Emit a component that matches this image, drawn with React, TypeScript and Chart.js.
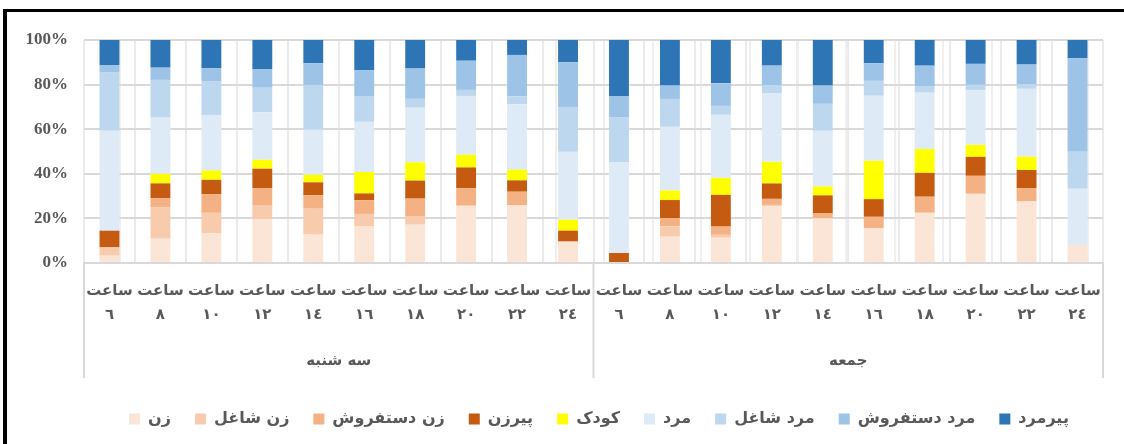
import React, { useEffect, useRef } from 'react';
import { Chart, registerables } from 'chart.js';

Chart.register(...registerables);

// ---- Data ----
const days = ['سه شنبه', 'جمعه'];
const hours = ['٦', '٨', '١٠', '١٢', '١٤', '١٦', '١٨', '٢٠', '٢٢', '٢٤'];
const hourWord = 'ساعت';
const yTickLabels = ['0%', '10%', '20%', '30%', '40%', '50%', '60%', '70%', '80%', '90%', '100%'];

const seriesNames = ['زن', 'زن شاغل', 'زن دستفروش', 'پیرزن', 'کودک', 'مرد', 'مرد شاغل', 'مرد دستفروش', 'پیرمرد'];
const seriesColors = ['#FBE5D6', '#F8CBAD', '#F4B183', '#C55A11', '#FFFF00', '#DEEBF7', '#BDD7EE', '#9DC3E6', '#2E75B6'];

// values per category: Tuesday 6..24, then Friday 6..24
const zan = [3.3, 10.9, 13.4, 19.7, 12.7, 16.6, 17.2, 25.7, 26.0, 9.6, 0, 11.8, 11.3, 25.4, 20.0, 15.5, 22.5, 31.0, 27.6, 8.1];
const zanShaghel = [3.7, 14.0, 9.1, 6.0, 11.6, 5.4, 3.6, 0, 0, 0, 0, 4.6, 1.3, 0.7, 0, 0, 0, 0, 0, 0];
const zanDastforush = [0, 4.2, 8.4, 7.9, 6.0, 6.1, 8.1, 7.9, 6.0, 0, 0, 3.7, 3.7, 2.7, 2.2, 5.2, 7.2, 8.1, 6.0, 0];
const pirzan = [7.5, 6.6, 6.4, 8.7, 5.8, 3.1, 8.1, 9.3, 5.1, 4.9, 4.5, 8.1, 14.2, 6.9, 8.1, 7.9, 10.7, 8.5, 8.1, 0];
const kudak = [0, 4.3, 4.2, 4.0, 3.4, 9.6, 8.2, 5.7, 4.8, 4.9, 0, 4.3, 7.6, 9.7, 4.0, 17.2, 10.7, 5.4, 6.0, 0];
const mard = [44.8, 25.2, 24.9, 21.3, 20.1, 22.5, 24.5, 26.4, 29.4, 30.4, 40.6, 28.5, 28.2, 30.9, 24.9, 29.1, 25.2, 24.5, 30.4, 25.2];
const mardShaghel = [26.1, 16.9, 15.2, 11.0, 20.1, 11.6, 4.0, 2.7, 3.4, 20.1, 20.1, 12.5, 4.0, 3.6, 12.1, 6.7, 3.0, 2.4, 2.1, 16.6];
const mardDastforush = [3.4, 5.5, 5.7, 8.4, 9.7, 11.5, 13.6, 13.1, 18.7, 20.0, 9.7, 6.0, 10.1, 8.7, 8.2, 7.9, 9.1, 9.4, 8.8, 41.9];
const pirmard = [11.2, 12.4, 12.7, 13.0, 10.4, 13.6, 12.8, 9.3, 6.7, 10.0, 25.1, 20.4, 19.4, 11.5, 20.4, 10.4, 11.5, 10.7, 11.0, 8.2];

const seriesValues = [zan, zanShaghel, zanDastforush, pirzan, kudak, mard, mardShaghel, mardDastforush, pirmard];

const categories = days.flatMap(() => hours.map((h) => [hourWord, h]));

const TEXT_COLOR = '#595959';
const ARABIC_FONT = '"DejaVu Sans", sans-serif';
const LEGEND_CENTER_X = 599;

export default function App() {
  const canvasRef = useRef<HTMLCanvasElement | null>(null);

  useEffect(() => {
    document.body.style.margin = '0';
    const canvas = canvasRef.current;
    if (!canvas) return;

    const totals = categories.map((_, i) => seriesValues.reduce((s, arr) => s + arr[i], 0));
    const datasets = seriesNames.map((name, si) => ({
      label: name,
      data: seriesValues[si].map((v, i) => (v / totals[i]) * 100),
      backgroundColor: seriesColors[si],
      borderWidth: 0,
      barPercentage: 0.78,
      categoryPercentage: 0.5,
    }));

    const groupPlugin = {
      id: 'groupLabels',
      afterLayout(chart: any) {
        const lg = chart.legend;
        if (lg) {
          const shift = LEGEND_CENTER_X - (lg.left + lg.right) / 2;
          lg.left += shift;
          lg.right += shift;
        }
      },
      afterDraw(chart: any) {
        const xs = chart.scales.x;
        const area = chart.chartArea;
        const ctx = chart.ctx;
        const n = hours.length;
        const bounds = [area.left];
        for (let g = 1; g < days.length; g++) {
          bounds.push((xs.getPixelForValue(g * n - 1) + xs.getPixelForValue(g * n)) / 2);
        }
        bounds.push(area.right);
        ctx.save();
        ctx.strokeStyle = '#D9D9D9';
        ctx.lineWidth = 2;
        bounds.forEach((b) => {
          ctx.beginPath();
          ctx.moveTo(b, area.bottom);
          ctx.lineTo(b, area.bottom + 115);
          ctx.stroke();
        });
        ctx.fillStyle = TEXT_COLOR;
        ctx.font = 'bold 15px ' + ARABIC_FONT;
        ctx.textAlign = 'center';
        ctx.textBaseline = 'middle';
        days.forEach((d, i) => {
          ctx.fillText(d, (bounds[i] + bounds[i + 1]) / 2, area.bottom + 98);
        });
        ctx.restore();
      },
    };

    const chart = new Chart(canvas, {
      type: 'bar',
      data: { labels: categories as any, datasets },
      plugins: [groupPlugin],
      options: {
        animation: false,
        responsive: false,
        maintainAspectRatio: false,
        layout: { padding: { left: 0, right: 21, top: 40, bottom: 7 } },
        plugins: {
          tooltip: { enabled: false },
          legend: {
            position: 'bottom',
            labels: {
              boxWidth: 11,
              boxHeight: 11,
              padding: 24,
              color: TEXT_COLOR,
              font: { family: ARABIC_FONT, size: 16, weight: 'bold' },
            },
          },
        },
        scales: {
          x: {
            stacked: true,
            offset: true,
            grid: { offset: true, color: '#EBEBEB', lineWidth: 2, drawTicks: false },
            border: { display: true, color: '#D9D9D9', width: 2 },
            ticks: {
              autoSkip: false,
              maxRotation: 0,
              minRotation: 0,
              padding: 16,
              color: TEXT_COLOR,
              font: { family: ARABIC_FONT, size: 15, weight: 'bold', lineHeight: '24px' } as any,
            },
            afterFit: (s: any) => {
              s.height = 124;
            },
          },
          x2: {
            type: 'linear',
            position: 'bottom',
            min: -0.725,
            max: categories.length - 0.725,
            grid: { color: '#EFEFEF', lineWidth: 2, drawTicks: false },
            border: { display: false },
            ticks: { display: false },
            afterBuildTicks: (s: any) => {
              s.ticks = categories.map((_, i) => ({ value: i }));
            },
          },
          y: {
            stacked: true,
            min: 0,
            max: 100,
            ticks: {
              stepSize: 10,
              padding: 16,
              color: TEXT_COLOR,
              font: { family: '"Liberation Serif", serif', size: 17, weight: 'bold' },
              callback: (_v: any, i: number) => yTickLabels[i],
            },
            grid: { color: '#D9D9D9', lineWidth: 2, drawTicks: false },
            border: { display: false },
            afterFit: (s: any) => {
              s.width = 84;
            },
          },
        },
      } as any,
    });

    return () => chart.destroy();
  }, []);

  return (
    <div style={{ position: 'relative', width: 1124, height: 444, background: '#fff', overflow: 'hidden' }}>
      <canvas ref={canvasRef} width={1124} height={444} style={{ position: 'absolute', left: 0, top: 0, width: 1124, height: 444 }} />
      <div style={{ position: 'absolute', left: 3, top: 9, width: 1121, height: 3, background: '#000' }} />
      <div style={{ position: 'absolute', left: 3, top: 9, width: 4, height: 435, background: '#000' }} />
    </div>
  );
}
